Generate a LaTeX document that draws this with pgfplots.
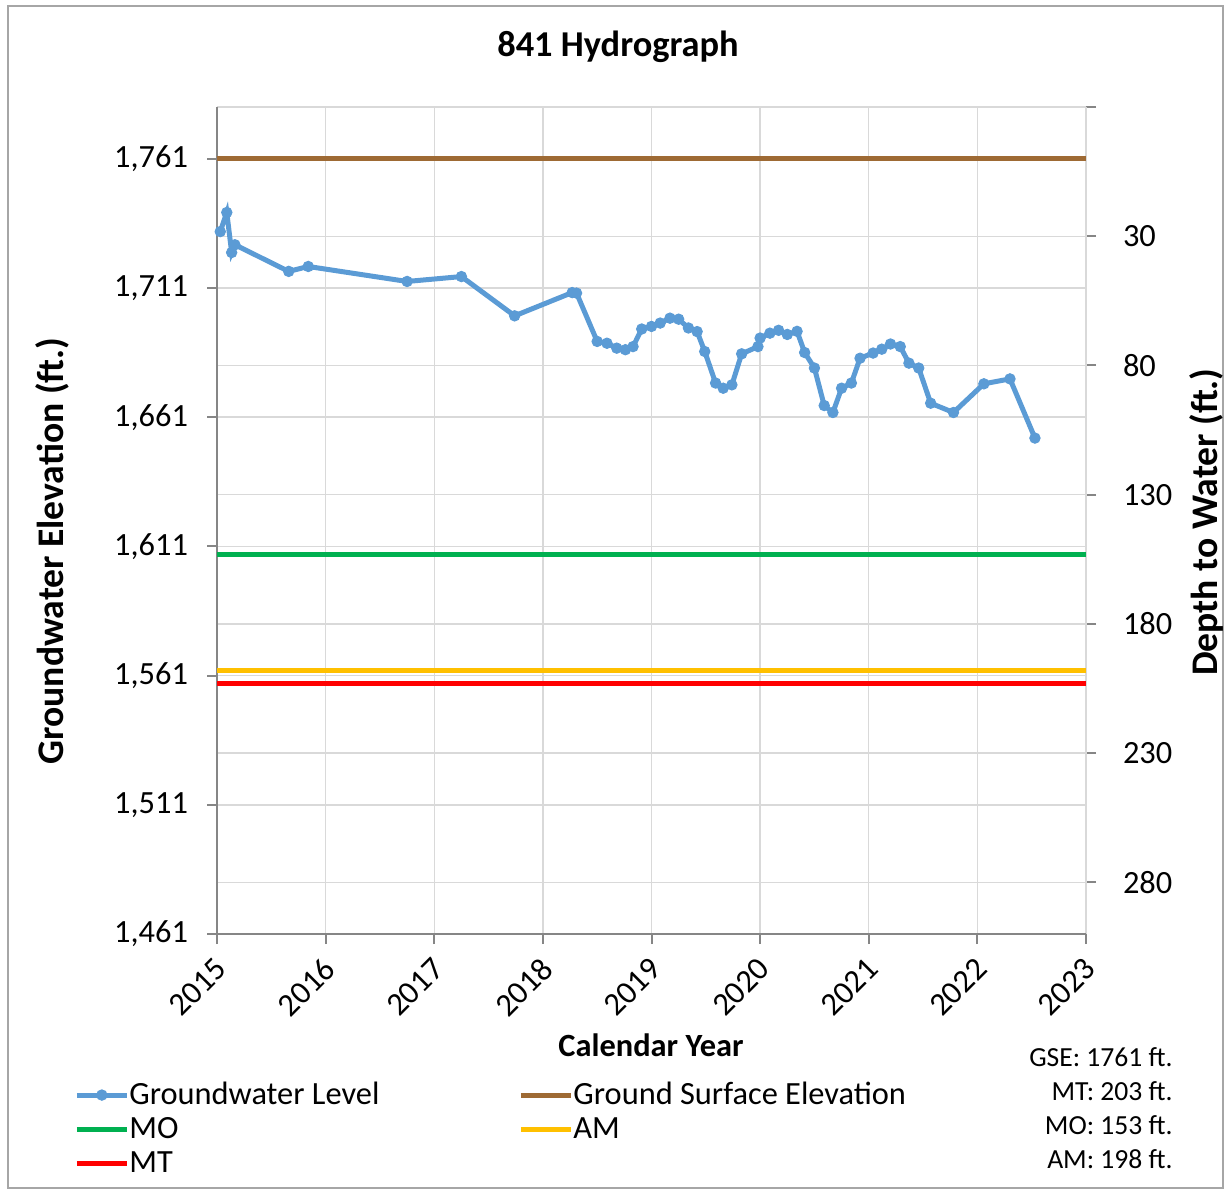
\documentclass[border=0pt]{standalone}
\usepackage{pgfplots}
\pgfplotsset{compat=1.18}
\usepackage{fontspec}
\setmainfont{Carlito}
\definecolor{gwblue}{HTML}{5B9BD5}
\definecolor{gsebrown}{HTML}{9E6A34}
\definecolor{mogreen}{HTML}{00B050}
\definecolor{amyellow}{HTML}{FFC000}
\definecolor{mtred}{HTML}{FF0000}
\definecolor{gridgray}{HTML}{D9D9D9}
\definecolor{axisgray}{HTML}{868686}
\newcommand{\tf}{\fontsize{16.2}{19}\selectfont}
\newcommand{\lf}{\fontsize{18.8}{21}\selectfont}
\begin{document}
\begin{tikzpicture}
\path[use as bounding box] (0,0) rectangle (613pt,-595.5pt);
\draw[gray!70, line width=0.8pt] (4pt,-3pt) rectangle (611.5pt,-594pt);
% right axis: depth to water
\begin{axis}[
  at={(108.5pt,-467pt)}, anchor=south west,
  scale only axis, width=434.5pt, height=413.5pt,
  xmin=2015, xmax=2023, ymin=-20, ymax=300, y dir=reverse,
  axis y line*=right, axis x line=none,
  ytick={-20,30,80,130,180,230,280},
  yticklabels={,30,80,130,180,230,280},
  ymajorgrids, grid style={draw=gridgray, line width=0.7pt},
  axis line style={draw=axisgray, line width=1pt},
  tick style={draw=axisgray, line width=1pt},
  tick align=outside, major tick length=5pt,
  /pgf/number format/assume math mode=true,
  yticklabel style={font=\tf, xshift=10pt},
]
\addplot[draw=none] coordinates {(2015,0)};
\end{axis}
% main axis
\begin{axis}[
  at={(108.5pt,-467pt)}, anchor=south west,
  scale only axis, width=434.5pt, height=413.5pt,
  xmin=2015, xmax=2023, ymin=1461, ymax=1781,
  xtick={2015,2016,...,2023}, ytick={1461,1511,1561,1611,1661,1711,1761},
  axis x line*=bottom, axis y line*=left,
  grid=major, grid style={draw=gridgray, line width=0.7pt},
  axis line style={draw=axisgray, line width=1pt},
  tick style={draw=axisgray, line width=1pt},
  tick align=outside, major tick length=5pt,
  /pgf/number format/assume math mode=true,
  xticklabel style={font=\tf, xshift=4.5pt, yshift=-7.5pt, rotate=45, anchor=east, /pgf/number format/1000 sep={}},
  yticklabel style={font=\tf, /pgf/number format/1000 sep={,}, xshift=-6pt},
  legend columns=2,
  legend cell align=left,
  legend style={draw=none, fill=none, inner sep=0pt, at={(-0.1646,-0.174)}, anchor=north west,
    font=\tf, row sep=1pt,
    /tikz/every odd column/.append style={column sep=-2pt},
    /tikz/every even column/.append style={column sep=67.5pt}},
  legend image code/.code={\draw[mark repeat=2,mark phase=2,#1] plot coordinates {(0pt,0pt) (12.5pt,0pt) (25pt,0pt)};},
]
\addplot[gwblue, line width=2.5pt, mark=*, mark size=2.6pt, mark options={solid, fill=gwblue, draw=gwblue, line width=0.5pt}] coordinates {
(2015.03,1732.8) (2015.09,1740.2) (2015.135,1724.7) (2015.165,1727.7)
(2015.66,1717.4) (2015.84,1719.3) (2016.75,1713.5) (2017.25,1715.4)
(2017.74,1700.2) (2018.27,1709.2) (2018.31,1709.0) (2018.50,1690.3)
(2018.59,1689.6) (2018.68,1687.7) (2018.76,1687.1) (2018.83,1688.3)
(2018.91,1695.1) (2019.00,1696.1) (2019.08,1697.4) (2019.17,1699.3)
(2019.25,1698.9) (2019.34,1695.5) (2019.42,1694.1) (2019.49,1686.4)
(2019.59,1674.2) (2019.66,1672.2) (2019.74,1673.5) (2019.83,1685.5)
(2019.98,1688.3) (2020.00,1691.6) (2020.09,1693.5) (2020.17,1694.6)
(2020.25,1693.0) (2020.34,1694.2) (2020.41,1686.0) (2020.50,1680.0)
(2020.59,1665.5) (2020.67,1662.8) (2020.75,1672.2) (2020.84,1674.2)
(2020.92,1683.8) (2021.04,1685.8) (2021.12,1687.3) (2021.20,1689.3)
(2021.29,1688.3) (2021.37,1681.9) (2021.46,1680.0) (2021.57,1666.4)
(2021.78,1662.8) (2022.06,1673.9) (2022.30,1675.8) (2022.53,1652.9)
};
\addlegendentry{Groundwater Level}
\addplot[gsebrown, line width=2.5pt] coordinates {(2015,1761) (2023,1761)};
\addlegendentry{Ground Surface Elevation}
\addplot[mogreen, line width=2.5pt] coordinates {(2015,1608) (2023,1608)};
\addlegendentry{MO}
\addplot[amyellow, line width=2.5pt] coordinates {(2015,1563) (2023,1563)};
\addlegendentry{AM}
\addplot[mtred, line width=2.5pt] coordinates {(2015,1558) (2023,1558)};
\addlegendentry{MT}
\end{axis}
\node[font=\fontsize{18.2}{20}\selectfont\bfseries] at (309pt,-23.5pt) {841 Hydrograph};
\node[font=\tf\bfseries] at (325.5pt,-522.5pt) {Calendar Year};
\node[font=\lf\bfseries, rotate=90] at (26pt,-275.5pt) {Groundwater Elevation (ft.)};
\node[font=\lf\bfseries, rotate=90] at (603pt,-261pt) {Depth to Water (ft.)};
\node[font=\fontsize{13.8}{16}\selectfont, anchor=east, inner sep=0pt] at (586.5pt,-528.5pt) {GSE: 1761 ft.};
\node[font=\fontsize{13.8}{16}\selectfont, anchor=east, inner sep=0pt] at (586.5pt,-545.5pt) {MT: 203 ft.};
\node[font=\fontsize{13.8}{16}\selectfont, anchor=east, inner sep=0pt] at (586.5pt,-562.5pt) {MO: 153 ft.};
\node[font=\fontsize{13.8}{16}\selectfont, anchor=east, inner sep=0pt] at (586.5pt,-579.5pt) {AM: 198 ft.};
\end{tikzpicture}
\end{document}
